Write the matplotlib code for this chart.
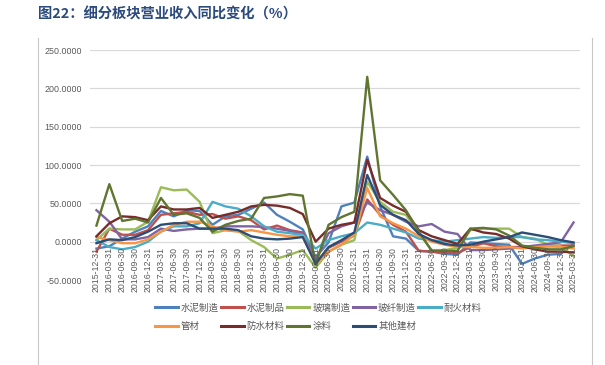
import matplotlib
matplotlib.use("Agg")
import matplotlib.pyplot as plt
from matplotlib.lines import Line2D
from matplotlib import transforms

dates = ["2015-12-31",
         "2016-03-31", "2016-06-30", "2016-09-30", "2016-12-31",
         "2017-03-31", "2017-06-30", "2017-09-30", "2017-12-31",
         "2018-03-31", "2018-06-30", "2018-09-30", "2018-12-31",
         "2019-03-31", "2019-06-30", "2019-09-30", "2019-12-31",
         "2020-03-31", "2020-06-30", "2020-09-30", "2020-12-31",
         "2021-03-31", "2021-06-30", "2021-09-30", "2021-12-31",
         "2022-03-31", "2022-06-30", "2022-09-30", "2022-12-31",
         "2023-03-31", "2023-06-30", "2023-09-30", "2023-12-31",
         "2024-03-31", "2024-06-30", "2024-09-30", "2024-12-31",
         "2025-03-31"]

cement = [-9, -6, 4, 13, 20, 40, 33, 41, 40, 22, 33, 35, 43, 51, 35, 26, 16, -20, -1, 46, 51,
          111, 46, 7, 4, -12, -13, -16, -17, -1, -2, -3, -4, -29, -22, -17, -16, -3]
cement_products = [-13, 17, 9, 9, 15, 35, 37, 39, 35, 36, 30, 33, 28, 16, 21, 15, 12, -28, -8, 0, 8,
                   55, 35, 22, 13, -12, -13, -14, -15, -7, -2, -6, -7, -7, -6, -6, -5, -5]
glass = [2, 17, 16, 16, 26, 71, 67, 68, 52, 11, 15, 14, 2, -7, -22, -17, -11, -34, -13, -4, 2,
         78, 52, 39, 35, 11, -11, -11, -8, 15, 17, 17, 17, 6, 4, -4, -6, -19]
glass_fiber = [41, 26, 3, 3, 6, 17, 14, 16, 17, 17, 20, 20, 20, 19, 17, 14, 10, -24, 11, 20, 25,
               51, 41, 35, 26, 20, 23, 13, 10, -11, -11, -10, -9, -7, -5, -3, -1, 25]
refractory = [2, -7, -10, -7, 0, 13, 20, 20, 24, 52, 46, 43, 33, 20, 13, 11, 9, -9, 2, 7, 11,
              25, 22, 17, 12, 4, 2, 0, 2, 4, 6, 5, 6, 6, 3, 2, 0, -2]
pipes = [6, 2, -2, -2, 3, 13, 22, 26, 26, 20, 15, 13, 15, 12, 9, 7, 7, -29, -13, -4, 9,
         70, 33, 24, 17, 7, 0, -4, -7, -7, -8, -8, -7, -9, -7, -6, -7, -9]
waterproof = [7, 24, 33, 32, 28, 46, 42, 42, 44, 31, 35, 39, 46, 48, 47, 44, 36, 0, 17, 22, 25,
              107, 57, 47, 39, 15, 7, 2, -3, 17, 12, 10, 4, -6, -10, -13, -13, -14]
coatings = [21, 75, 27, 30, 25, 57, 35, 37, 31, 13, 22, 27, 30, 57, 59, 62, 60, -30, 22, 32, 39,
            215, 80, 61, 41, 13, -12, -12, -12, 17, 18, 16, 8, -5, -8, -10, -10, -6]
other = [-2, 3, 2, 6, 13, 22, 24, 24, 17, 17, 17, 15, 7, 4, 3, 4, 6, -29, -7, 2, 12,
         87, 48, 35, 28, 10, 2, -3, -5, -4, 0, 3, 6, 12, 9, 6, 2, -1]

series_names = ["水泥制造", "水泥制品", "玻璃制造", "玻纤制造", "耐火材料",
                "管材", "防水材料", "涂料", "其他建材"]
series_values = [cement, cement_products, glass, glass_fiber, refractory,
                 pipes, waterproof, coatings, other]
series_colors = ["#4F81BD", "#C0504D", "#9BBB59", "#8064A2", "#4BACC6",
                 "#F79646", "#772C2A", "#5F7530", "#2C4D75"]

title = "图22：细分板块营业收入同比变化（%）"
y_ticks = [-50, 0, 50, 100, 150, 200, 250]

W, H = 605, 365
fig = plt.figure(figsize=(W / 100, H / 100), dpi=100)
ax = fig.add_axes([90 / W, (H - 280) / H, 490 / W, 230 / H])

x = list(range(len(dates)))
handles = []
for name, vals, col in zip(series_names, series_values, series_colors):
    h, = ax.plot(x, vals, color=col, lw=1.7, label=name, solid_joinstyle="round")
    handles.append(h)

ax.set_xlim(-0.5, len(dates) - 0.5)
ax.set_ylim(-50, 250)
ax.set_yticks(y_ticks)
ax.set_yticklabels([f"{v:.4f}" for v in y_ticks], fontsize=6.4,
                   color="#595959", family=["Liberation Sans"])
ax.tick_params(axis="y", length=0, pad=5.8)
ax.set_xticks([])
ax.yaxis.grid(True, color="#D9D9D9", lw=0.9)
ax.set_axisbelow(True)
for s in ax.spines.values():
    s.set_visible(False)

off = transforms.offset_copy(ax.transData, fig=fig, x=0, y=-5, units="dots")
for i, d in enumerate(dates):
    ax.text(i, 0, d, rotation=90, ha="center", va="top", fontsize=6.3,
            color="#595959", family=["Liberation Sans"], transform=off)

fig.text(38 / W, 1 - 14 / H, title, fontsize=10.3, fontweight="bold",
         color="#2B4A7E", family=["Noto Sans CJK SC", "DejaVu Sans"],
         ha="left", va="center")

for xx in (38, 592):
    fig.add_artist(Line2D([xx / W, xx / W], [0, 1 - 38 / H],
                          transform=fig.transFigure, color="#C8C8C8", lw=0.8))

order = [0, 5, 1, 6, 2, 7, 3, 8, 4]
leg = fig.legend([handles[i] for i in order], [series_names[i] for i in order],
                 ncol=5, loc="upper left", bbox_to_anchor=(155 / W, 1 - 303 / H),
                 frameon=False, borderpad=0, borderaxespad=0,
                 handlelength=2.4, handletextpad=0.3, columnspacing=0.25,
                 labelspacing=1.0,
                 prop={"family": ["Noto Sans CJK SC"], "size": 6.8})
for t in leg.get_texts():
    t.set_color("#595959")
for l in leg.get_lines():
    l.set_linewidth(2.2)

fig.savefig("out.png", dpi=100)
